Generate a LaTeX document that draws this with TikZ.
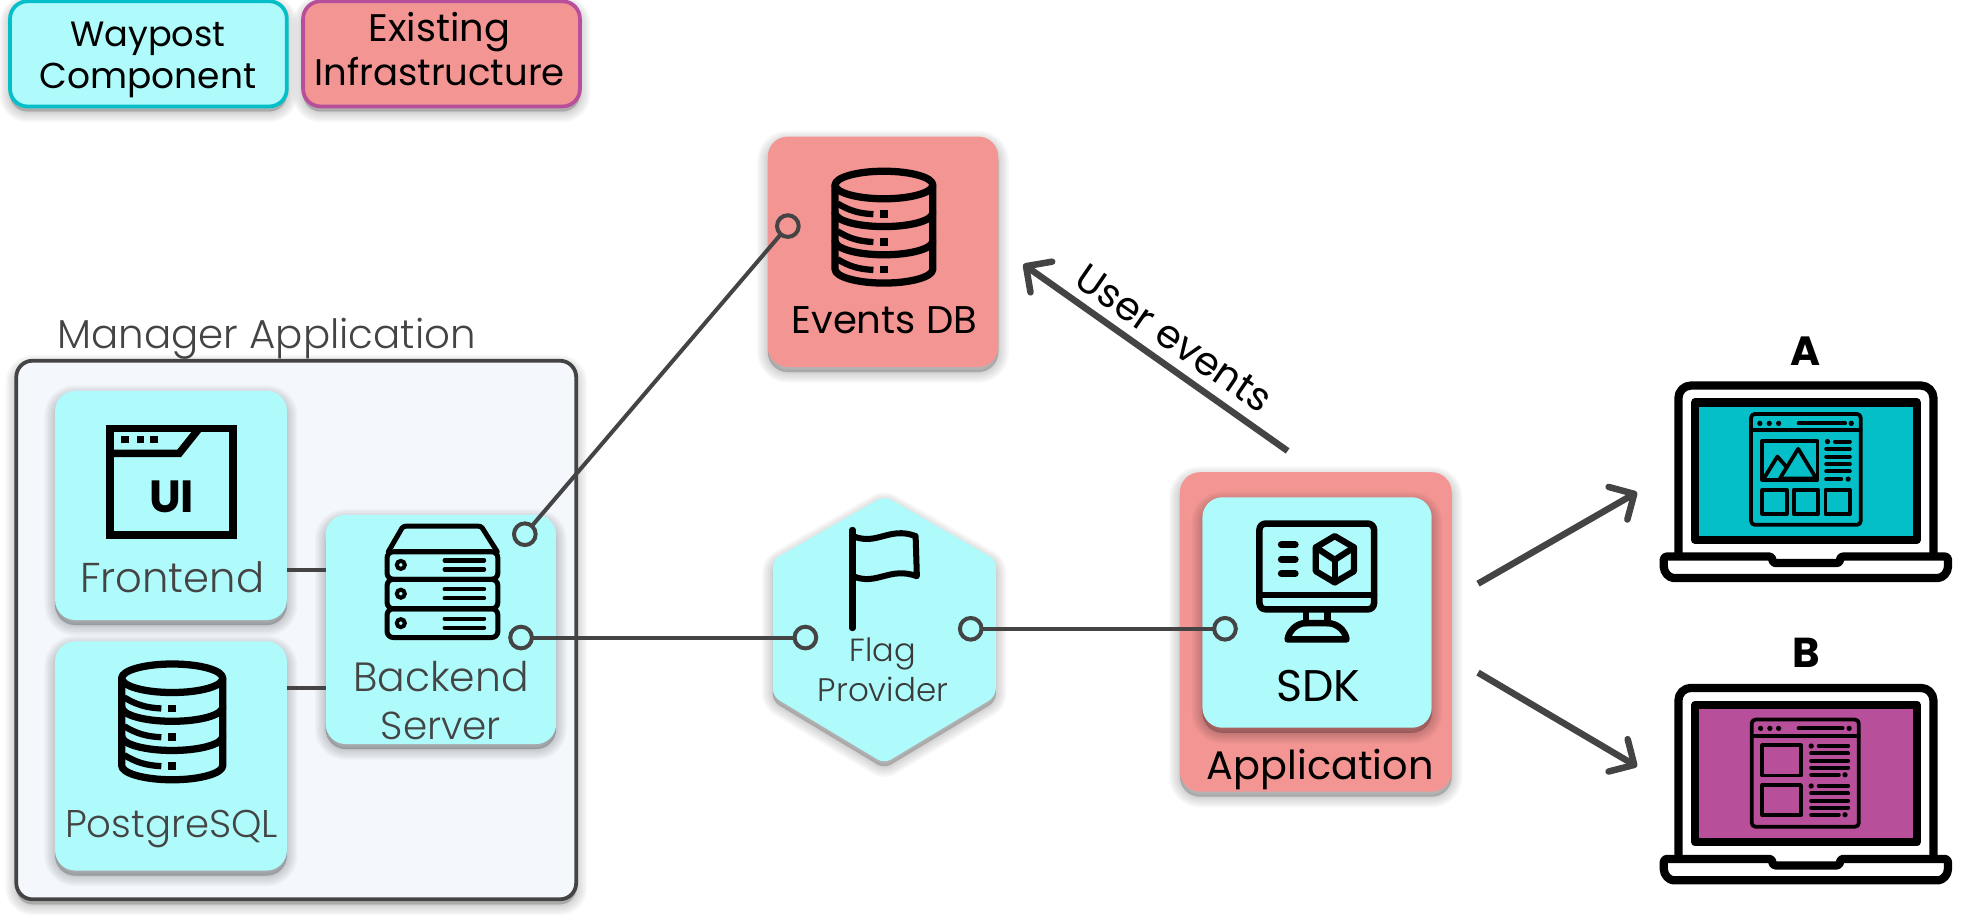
\documentclass[tikz,border=0pt]{standalone}
\usepackage{fontspec}
\usepackage{graphicx}
\setmainfont{Poppins}
\newfontfamily\lightfont{Poppins Light}
\usetikzlibrary{arrows.meta}
\definecolor{wayfill}{HTML}{AFFBFB}
\definecolor{wayedge}{HTML}{04BFC7}
\definecolor{infrafill}{HTML}{F29593}
\definecolor{infraedge}{HTML}{B84F9A}
\definecolor{ink}{HTML}{444444}
\definecolor{panel}{HTML}{F4F7FC}
% text set to an exact printed width
\newcommand{\wt}[2]{\resizebox{#1pt}{!}{#2}}
\tikzset{
  shadowstep/.style={preaction={draw=black,fill=black,line width=#1,opacity=.03,line join=round,transform canvas={yshift=-4pt}}},
  softshadow/.style={shadowstep=17pt,shadowstep=14pt,shadowstep=11pt,shadowstep=8pt,shadowstep=5pt,shadowstep=2.5pt,shadowstep=.5pt},
  boxbase/.style={rectangle,inner sep=0pt,outer sep=0pt,rounded corners=16pt,softshadow,text width=0pt},
  waybox/.style={boxbase,fill=wayfill},
  infrabox/.style={boxbase,fill=infrafill},
  legendway/.style={boxbase,rounded corners=14pt,fill=wayfill,draw=wayedge,line width=3pt},
  legendinfra/.style={boxbase,rounded corners=14pt,fill=infrafill,draw=infraedge,line width=3pt},
  panelbox/.style={boxbase,rounded corners=13pt,fill=panel,draw=ink,line width=3pt},
  lbl/.style={anchor=base,inner sep=0pt,outer sep=0pt,text=black},
  greylbl/.style={lbl,text=ink,font=\lightfont},
  link/.style={draw=ink,line width=3.2pt},
  port/.style={circle,draw=ink,line width=3.2pt,minimum size=17.3pt,inner sep=0pt,outer sep=0pt},
  bigarrow/.style={draw=ink,line width=5.2pt,-{Straight Barb[length=15pt,width=30pt,round]}},
  iconline/.style={draw=black,line width=#1,line join=round,line cap=round},
  iconline/.default=4.5pt,
  pics/dbicon/.style={code={
    \draw[iconline=5.8pt] (-39,-34.3) -- (-39,33) .. controls (-39,39) and (-21.5,44) .. (0,44)
       .. controls (21.5,44) and (39,39) .. (39,33) -- (39,-34.3);
    \draw[iconline=5.8pt] (0,-34.3) ellipse [x radius=39pt,y radius=11pt];
    \foreach \dy in {0,22.5}{
      \draw[iconline=5.8pt] (-39,{-12.1+\dy}) .. controls (-39,{-6+\dy}) and (-21.5,{-1.1+\dy}) .. (0,{-1.1+\dy})
         .. controls (21.5,{-1.1+\dy}) and (39,{-6+\dy}) .. (39,{-12.1+\dy});
    }
    \foreach \dy in {0,22.2,44.5}{
      \draw[draw=black,line width=5pt,line cap=butt] (-37,{-19.5+\dy}) .. controls (-28,{-14+\dy}) and (-20,{-11.5+\dy}) .. (-8.4,{-11+\dy});
      \fill[black] (-2.9,{-14+\dy}) rectangle (2.9,{-8.2+\dy});
    }
  }},
  pics/laptop/.style={code={
    \draw[iconline=6.6pt,fill=white,rounded corners=10pt] (1340,444) -- (1340,307.8) -- (1543.6,307.8) -- (1543.6,444);
    \draw[iconline=6.6pt,fill=#1] (1353.3,321.3) rectangle (1530.2,431);
    \draw[iconline=6.6pt,fill=white,rounded corners=2.5pt] (1328.3,450) -- (1328.3,444.3) -- (1415,444.3) -- (1415,449.5)
       -- (1469,449.5) -- (1469,444.3) -- (1555.2,444.3) -- (1555.2,450)
       .. controls (1555.2,457) and (1551,461.4) .. (1545,461.4) -- (1338.5,461.4)
       .. controls (1332.5,461.4) and (1328.3,457) .. (1328.3,450) -- cycle;
  }}
}
\begin{document}
\begin{tikzpicture}[x=1pt,y=-1pt]
\useasboundingbox (0,0) rectangle (1568,733);

% legend
\node[legendway,minimum width=221pt,minimum height=84pt] (legway) at (118.5,43) {};
\node[lbl] (legwayA) at (118,37) {\wt{124}{Waypost}};
\node[lbl] (legwayB) at (118,71) {\wt{173}{Component}};
\node[legendinfra,minimum width=221pt,minimum height=84pt] (leginfra) at (352.5,43) {};
\node[lbl] (leginfraA) at (351,33) {\wt{113}{Existing}};
\node[lbl] (leginfraB) at (351,68) {\wt{200}{Infrastructure}};

% manager application
\node[greylbl] (mgrlbl) at (213,278) {\wt{334}{Manager Application}};
\node[panelbox,minimum width=447pt,minimum height=430pt] (mgr) at (236.5,503) {};

\node[waybox,minimum width=185pt,minimum height=183pt] (front) at (136.5,403.5) {};
\node[waybox,minimum width=185pt,minimum height=183pt] (pg) at (136.5,603.5) {};
\node[waybox,minimum width=184pt,minimum height=183pt] (back) at (352,502.5) {};
\draw[link] (front.east |- 229,455) -- (back.west |- 260,455);
\draw[link] (pg.east |- 229,549) -- (back.west |- 260,549);

% frontend window icon
\draw[draw=black,line width=6pt,line join=miter] (88,342) rectangle (186,427);
\draw[draw=black,line width=6pt,line join=miter] (88,362) -- (143,362) -- (159,342);
\foreach \px in {100,112,123}{\fill[black] ({\px-3},348) rectangle ({\px+3},354);}
\node[lbl,font=\bfseries] (uimark) at (137,409) {\wt{36}{UI}};
\node[greylbl] (frontlbl) at (137.5,473) {\wt{147}{Frontend}};

% postgres
\pic at (137.5,577) [scale=1.035] {dbicon};
\node[greylbl] (pglbl) at (137,669) {\wt{170}{PostgreSQL}};

% backend server icon
\draw[iconline=4pt] (310,440.5) -- (321,421.5) .. controls (322,420.3) and (323,420) .. (325,420) -- (381,420)
   .. controls (383,420) and (384,420.3) .. (385,421.5) -- (397,440.5);
\foreach \ya/\yb/\yc in {440.5/462.5/451,462.5/486/474,486/509/497.5}{
  \draw[iconline=4pt,rounded corners=5pt] (309,\ya) rectangle (397.5,\yb);
  \draw[draw=black,line width=3.2pt] (320,\yc) circle [radius=3.2pt];
  \draw[iconline=3.4pt] (355,{\yc-3.6}) -- (386.5,{\yc-3.6});
  \draw[iconline=3.4pt] (355,{\yc+3.6}) -- (386.5,{\yc+3.6});
}
\node[greylbl] (backA) at (352,552) {\wt{140}{Backend}};
\node[greylbl] (backB) at (352,590) {\wt{96}{Server}};

% events database
\node[infrabox,minimum width=184pt,minimum height=184pt] (events) at (705,201) {};
\pic at (705.7,182) {dbicon};
\node[lbl] (eventslbl) at (706,266) {\wt{148}{Events DB}};

% flag provider hexagon
\path[fill=wayfill,rounded corners=6pt,softshadow] (706,396) -- (795,447) -- (795,556) -- (706,609.5) -- (617,556) -- (617,447) -- cycle;
\draw[iconline=4.8pt] (680.6,423) -- (680.6,501.5);
\draw[iconline=4.8pt] (681,428) .. controls (700,436) and (710,420) .. (731,428) -- (732,460)
   .. controls (710,452) and (700,468) .. (681,460);
\node[greylbl,text=ink!85!black] (flagA) at (705,528) {\wt{53}{Flag}};
\node[greylbl,text=ink!85!black] (flagB) at (705,560) {\wt{104}{Provider}};

% application with SDK
\node[infrabox,minimum width=217pt,minimum height=255pt] (app) at (1050.5,504.5) {};
\node[waybox,minimum width=183pt,minimum height=184pt] (sdk) at (1051.5,489) {};
\draw[iconline=5.2pt,rounded corners=5pt] (1005.5,418) rectangle (1097,486.5);
\draw[iconline=5.2pt] (1006,475) -- (1097,475);
\draw[iconline=5.2pt] (1042.5,487) -- (1042.5,497.5);
\draw[iconline=5.2pt] (1060,487) -- (1060,497.5);
\draw[iconline=5.2pt] (1028,510.5) .. controls (1029,503) and (1036,497.5) .. (1042,497.5) -- (1060,497.5)
   .. controls (1067,497.5) and (1074,503) .. (1075,510.5) -- cycle;
\foreach \ly in {435,446.5,458}{\draw[iconline=5.6pt] (1023,\ly) -- (1034,\ly);}
\draw[iconline=5pt] (1065.6,428) -- (1081,437) -- (1081,456) -- (1065.6,465) -- (1050.5,456) -- (1050.5,437) -- cycle;
\draw[iconline=5pt] (1050.5,437) -- (1065.6,447) -- (1081,437);
\draw[iconline=5pt] (1065.6,447) -- (1065.6,465);
\node[lbl] (sdklbl) at (1052.3,560) {\wt{67}{SDK}};
\node[lbl] (applbl) at (1054,622) {\wt{181}{Application}};

% interface ports and their links
\node[port] (portevents) at (629,180.5) {};
\node[port] (portbacktop) at (419,426.5) {};
\node[port] (portbackbot) at (416,509) {};
\node[port] (portflagin) at (643,509) {};
\node[port] (portflagout) at (775,502) {};
\node[port] (portsdk) at (978,502) {};
\draw[link] (portbacktop) -- (portevents);
\draw[link] (portbackbot) -- (portflagin);
\draw[link] (portflagout) -- (portsdk);

% flows from the application
\coordinate (evfrom) at (1028,360);
\coordinate (evto) at (817,211);
\coordinate (afrom) at (1180,466);
\coordinate (ato) at (1307,393);
\coordinate (bfrom) at (1180,537);
\coordinate (bto) at (1307,612);
\draw[bigarrow] (evfrom) -- (evto);
\draw[bigarrow] (afrom) -- (ato);
\draw[bigarrow] (bfrom) -- (bto);
\node[lbl,rotate=-34.5] (evlbl) at (931,279) {\wt{182}{User events}};

% variant A
\node[lbl,font=\bfseries] (lbla) at (1441.7,292) {\wt{24}{A}};
\pic at (0,0) {laptop=wayedge};
\draw[iconline=3pt,rounded corners=3pt] (1398,330.5) rectangle (1485.5,419);
\draw[iconline=3pt] (1398,343) -- (1485.5,343);
\foreach \dx in {1405,1412.5,1420,1478}{\fill[black] (\dx,338) circle [radius=2.1pt];}
\draw[iconline=3.2pt] (1436,338) -- (1473,338);
\draw[iconline=3pt] (1407,352) rectangle (1451,383);
\draw[iconline=3pt] (1421,382) -- (1435.6,358.3) -- (1450,382) -- cycle;
\draw[iconline=3pt] (1408.2,382) -- (1419,364.5) -- (1426.5,373);
\fill[black] (1459,352.5) circle [radius=2.1pt];
\draw[iconline=3.2pt] (1465,352.5) -- (1476.8,352.5);
\foreach \ly in {358.4,364.5,370.6,376.4}{\draw[iconline=3.2pt] (1458,\ly) -- (1476.8,\ly);}
\draw[iconline=3.2pt] (1458,382.5) -- (1470,382.5);
\fill[black] (1475.5,382.5) circle [radius=2.1pt];
\foreach \sx in {1407,1432,1457.5}{\draw[iconline=3pt] (\sx,391) rectangle ({\sx+19.5},410.2);}

% variant B
\node[lbl,font=\bfseries] (lblb) at (1442,533) {\wt{22}{B}};
\pic at (0,241.4) {laptop=infraedge};
\draw[iconline=3pt,rounded corners=3pt] (1398.5,574.5) rectangle (1484,660);
\draw[iconline=3pt] (1398.5,587.6) -- (1484,587.6);
\foreach \dx in {1405.6,1413,1420,1476.3}{\fill[black] (\dx,581.5) circle [radius=2.1pt];}
\draw[iconline=3.2pt] (1436,581.5) -- (1471,581.5);
\draw[iconline=3pt] (1407,595) rectangle (1437.8,619.2);
\draw[iconline=3pt] (1407,626.7) rectangle (1437.8,650.9);
\foreach \by in {595.6,627.5}{
  \fill[black] (1446,\by) circle [radius=2.1pt];
  \draw[iconline=3.2pt] (1452,\by) -- (1475.5,\by);
  \foreach \ly in {5.8,11.7,17.2}{\draw[iconline=3.2pt] (1446,{\by+\ly}) -- (1475.5,{\by+\ly});}
  \draw[iconline=3.2pt] (1446,{\by+23}) -- (1468,{\by+23});
  \fill[black] (1473,{\by+23}) circle [radius=2.1pt];
}
\end{tikzpicture}
\end{document}
